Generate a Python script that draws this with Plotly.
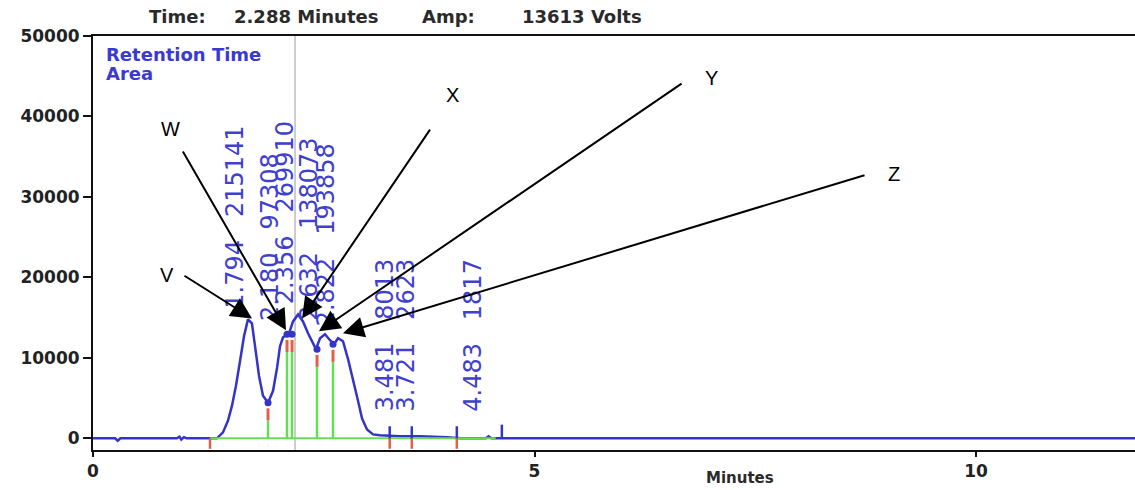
import numpy as np
import plotly.graph_objects as go

# ---------------- data ----------------
time_min = [0.00, 0.25, 0.28, 0.31, 0.95, 0.98, 1.00, 1.03, 1.06, 1.35,
            1.404, 1.472, 1.529, 1.574, 1.619, 1.665, 1.710, 1.755, 1.800, 1.835,
            1.880, 1.925, 1.982, 2.039, 2.084, 2.118, 2.152, 2.220, 2.265, 2.322,
            2.378, 2.435, 2.492, 2.525, 2.571, 2.627, 2.684, 2.729, 2.775, 2.831,
            2.888, 2.945, 3.001, 3.047, 3.103, 3.171, 3.250, 3.477, 3.703, 4.009,
            4.156, 4.45, 4.48, 4.51, 11.8]
amp = [0, 0, -300, 0, 0, 200, -150, 150, 0, 0,
       0, 740, 2220, 4060, 6530, 9610, 12680, 14780, 14290, 11450,
       7760, 5300, 4430, 5910, 8740, 11450, 12560, 13050, 14530, 15390,
       14530, 13050, 11820, 11080, 12440, 12930, 12190, 11700, 12440, 12070,
       9850, 7390, 4680, 2460, 1110, 490, 370, 250, 250, 120,
       0, 0, 250, 0, 0]

peak_rt = [1.794, 2.180, 2.356, 2.632, 2.822, 3.481, 3.721, 4.483]
peak_area = [215141, 97308, 269910, 138073, 193858, 8013, 2623, 1817]

drop_time = [1.982, 2.197, 2.254, 2.537, 2.718]
drop_amp = [4430, 12930, 12930, 11080, 11700]

baseline_span = [1.325, 4.56]
event_time = [1.325, 3.36, 3.61, 4.12]
event_has_top = [False, True, True, True]
end_tick_time = 4.63

cursor_time = 2.288
cursor_amp = 13613

y_ticks = [0, 10000, 20000, 30000, 40000, 50000]
x_ticks = [0, 5, 10]

arrow_names = ["V", "W", "X", "Y", "Z"]
arrow_tip_time = [1.801, 2.186, 2.367, 2.559, 2.831]
arrow_tip_amp = [14900, 13420, 14900, 13300, 13050]

# ---------------- styling ----------------
BLUE = "#3434c8"
LBLUE = "#4040d0"
GREEN = "#66dd55"
RED = "#e0604a"
FONT = "DejaVu Sans"

# layout positions (arrow tails / letters in data units)
arrow_tail_time = [1.019, 1.008, 3.828, 6.682, 8.754]
arrow_tail_amp = [20320, 35840, 38550, 44210, 32760]
letter_time = [0.838, 0.872, 4.066, 6.999, 9.071]
letter_amp = [20320, 38420, 42730, 44830, 32880]

fig = go.Figure()

# chromatogram trace
fig.add_trace(go.Scatter(x=time_min, y=amp, mode="lines",
                         line=dict(color=BLUE, width=2.5), hoverinfo="skip"))

# green integration baseline
fig.add_trace(go.Scatter(x=baseline_span, y=[0, 0], mode="lines",
                         line=dict(color=GREEN, width=2), hoverinfo="skip"))

# drop lines
gx, gy, rx, ry = [], [], [], []
for t, a in zip(drop_time, drop_amp):
    gx += [t, t, None]
    gy += [0, a - 2200, None]
    rx += [t, t, None]
    ry += [a - 2200, a - 700, None]
fig.add_trace(go.Scatter(x=gx, y=gy, mode="lines",
                         line=dict(color=GREEN, width=2.5), hoverinfo="skip"))
fig.add_trace(go.Scatter(x=rx, y=ry, mode="lines",
                         line=dict(color=RED, width=3), hoverinfo="skip"))
fig.add_trace(go.Scatter(x=drop_time, y=drop_amp, mode="markers",
                         marker=dict(color=BLUE, size=7), hoverinfo="skip"))

# event ticks on the baseline
ex, ey, bx, by = [], [], [], []
for t, top in zip(event_time, event_has_top):
    ex += [t, t, None]
    ey += [0, -1300, None]
    if top:
        bx += [t, t, None]
        by += [0, 1500, None]
bx += [end_tick_time, end_tick_time, None]
by += [0, 1700, None]
fig.add_trace(go.Scatter(x=ex, y=ey, mode="lines",
                         line=dict(color=RED, width=2.5), hoverinfo="skip"))
fig.add_trace(go.Scatter(x=bx, y=by, mode="lines",
                         line=dict(color=BLUE, width=2.5), hoverinfo="skip"))

# cursor line
fig.add_shape(type="line", xref="x", yref="paper", x0=cursor_time, x1=cursor_time,
              y0=0, y1=1, line=dict(color="#bdbdbd", width=1.5), layer="below")

annotations = []
# peak labels
for rt, area in zip(peak_rt, peak_area):
    base = float(np.interp(rt, time_min, amp)) + 1500
    base = max(base, 3100)
    annotations.append(dict(x=rt, y=base, xref="x", yref="y",
                            text=f"{rt:.3f}   {area}", textangle=-90,
                            xanchor="right", yanchor="bottom", showarrow=False,
                            font=dict(family=FONT, size=24, color=LBLUE)))

# arrows and letters
for n, tt, ta, at, aa, lt, la in zip(arrow_names, arrow_tip_time, arrow_tip_amp,
                                     arrow_tail_time, arrow_tail_amp,
                                     letter_time, letter_amp):
    annotations.append(dict(x=tt, y=ta, xref="x", yref="y", ax=at, ay=aa,
                            axref="x", ayref="y", text="", showarrow=True,
                            arrowhead=2, arrowsize=2.1, arrowwidth=2,
                            arrowcolor="#000000", standoff=0))
    annotations.append(dict(x=lt, y=la, xref="x", yref="y", text=n,
                            showarrow=False, xanchor="center", yanchor="middle",
                            font=dict(family="Liberation Sans", size=20, color="#000000")))

# header / legend texts (paper coords)
def px(xp):
    return (xp - 93) / 1042.0

def py(yp):
    return (450 - yp) / 414.0

hdr_font = dict(family=FONT, size=18, color="#2a2a2a", weight="bold")
for txt, xp in [("Time:", 147), ("2.288 Minutes", 232), ("Amp:", 420),
                (f"{cursor_amp} Volts", 520)]:
    annotations.append(dict(x=px(xp), y=py(16), xref="paper", yref="paper",
                            text=txt, showarrow=False, xanchor="left",
                            yanchor="middle", font=hdr_font))

leg_font = dict(family=FONT, size=18, color="#3a3ad0", weight="bold")
annotations.append(dict(x=px(104), y=py(55), xref="paper", yref="paper",
                        text="Retention Time", showarrow=False, xanchor="left",
                        yanchor="middle", font=leg_font))
annotations.append(dict(x=px(104), y=py(74), xref="paper", yref="paper",
                        text="Area", showarrow=False, xanchor="left",
                        yanchor="middle", font=leg_font))

annotations.append(dict(x=px(740), y=py(478), xref="paper", yref="paper",
                        text="Minutes", showarrow=False, xanchor="center",
                        yanchor="middle",
                        font=dict(family=FONT, size=15, color="#2a2a2a", weight="bold")))

tick_font = dict(family=FONT, size=17, color="#222222", weight="bold")
fig.update_layout(
    width=1135, height=490,
    margin=dict(l=93, r=0, t=36, b=40, pad=0),
    paper_bgcolor="white", plot_bgcolor="white",
    showlegend=False,
    annotations=annotations,
    xaxis=dict(range=[0, 11.8], tickvals=x_ticks, ticktext=[str(v) for v in x_ticks],
               ticks="outside", ticklen=5,
               tickwidth=1.5, tickcolor="#111", showline=True, linecolor="#111",
               linewidth=2, mirror=True, showgrid=False, zeroline=False,
               tickfont=tick_font, automargin=False),
    yaxis=dict(range=[-1450, 50000], tickvals=y_ticks, ticktext=[str(v) for v in y_ticks],
               ticks="outside", ticklen=8,
               tickwidth=1.5, tickcolor="#111", showline=True, linecolor="#111",
               linewidth=2, showgrid=False, zeroline=False, tickfont=tick_font,
               automargin=False),
)

fig.write_html("out.html", config={"displayModeBar": False},
               post_script="document.body.style.margin='0px';document.body.style.overflow='hidden';")
